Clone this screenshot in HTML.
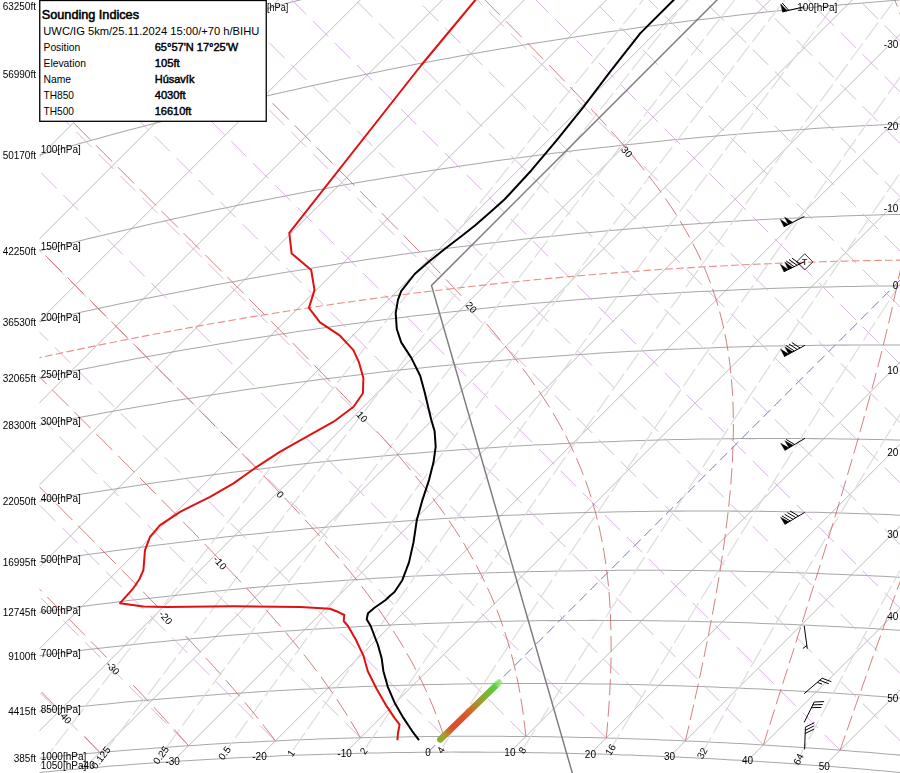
<!DOCTYPE html>
<html><head><meta charset="utf-8"><style>
html,body{margin:0;padding:0;background:#fff;}
body{width:900px;height:773px;overflow:hidden;position:relative;font-family:"Liberation Sans",sans-serif;}
svg{position:absolute;left:0;top:0;opacity:0.999;font-family:"Liberation Sans",sans-serif;}
.ib{fill:none;stroke:#a8a8a8;stroke-width:1.05;}
.it{fill:none;stroke:#ababab;stroke-width:0.8;}
.it0{fill:none;stroke:#6c6cd6;stroke-width:0.95;stroke-dasharray:10.2 5.1;}
.da{fill:none;stroke:#d6addc;stroke-width:0.9;stroke-dasharray:21.76 9.33;}
.mr{fill:none;stroke:#dcdcdc;stroke-width:1.2;stroke-dasharray:21 4.5;}
.sa{fill:none;stroke:#c75f5f;stroke-width:0.8;}
.tp{fill:none;stroke:#ec9088;stroke-width:1.15;stroke-dasharray:7.6 3.4;}
.isa{fill:none;stroke:#7c7c7c;stroke-width:1.45;}
.tc{fill:none;stroke:#000;stroke-width:2.0;stroke-linejoin:round;}
.dc{fill:none;stroke:#de1212;stroke-width:2.0;stroke-linejoin:round;}
.wb{fill:none;stroke:#000;stroke-width:1;}
.wp{fill:#000;stroke:#000;stroke-width:0.4;}
.l10{font-size:10px;fill:#000;}
.l11{font-size:11px;fill:#000;}
.l11b{font-size:11px;fill:#000;stroke:#000;stroke-width:0.45px;}
.fb2{fill:#000;stroke:#000;stroke-width:0.55px;}
</style></head><body>
<svg width="900" height="773" viewBox="0 0 900 773">
<defs><clipPath id="cp"><rect x="39.5" y="0" width="861" height="773"/></clipPath>
<linearGradient id="gb" gradientUnits="userSpaceOnUse" x1="440.3" y1="739.5" x2="499" y2="682.5">
<stop offset="0" stop-color="#8cae2a"/><stop offset="0.08" stop-color="#a89a2a"/><stop offset="0.2" stop-color="#de4c28"/><stop offset="0.42" stop-color="#dc5428"/><stop offset="0.6" stop-color="#b4882e"/><stop offset="0.78" stop-color="#7cb436"/><stop offset="0.93" stop-color="#5ad03a"/><stop offset="1" stop-color="#86e466" stop-opacity="0.7"/>
</linearGradient></defs>
<g clip-path="url(#cp)">
<path d="M149.5 -35.2 L161.5 -39.0 L173.5 -42.8 L185.4 -46.5 L197.2 -50.1 L209.0 -53.7 L220.8 -57.3 L232.5 -60.8 L244.2 -64.3 L255.8 -67.7 L267.3 -71.0 L278.8 -74.3 L290.3 -77.6 L301.7 -80.8 L313.0 -83.9 L324.3 -87.0 L335.6 -90.1 L346.8 -93.1 L358.0 -96.1 L369.2 -99.1 L380.3 -102.0 L391.3 -104.8 L402.3 -107.6 L413.3 -110.4 L424.2 -113.1 L435.1 -115.8 L445.9 -118.4 L456.7 -121.0 L467.5 -123.6 L478.2 -126.1 L488.9 -128.6 L499.6 -131.1 L510.2 -133.5 L520.8 -135.9 L531.3 -138.2 L541.8 -140.5 L552.3 -142.8 L562.7 -145.0 L573.1 -147.2 L583.5 -149.4 L593.8 -151.5 L604.1 -153.6 L614.3 -155.6 L624.6 -157.7 L634.8 -159.7 L644.9 -161.6 L655.1 -163.6 L665.2 -165.5 L675.2 -167.3 L685.3 -169.2 L695.3 -171.0 L705.2 -172.7 L715.2 -174.5 L725.1 -176.2 L735.0 -177.9 L744.8 -179.5 L754.7 -181.2 L764.5 -182.8 L774.2 -184.3 L784.0 -185.9 L793.7 -187.4 L803.4 -188.9 L813.0 -190.3 L822.7 -191.8 L832.3 -193.2 L841.8 -194.5 L851.4 -195.9 L860.9 -197.2 L870.4 -198.5 L879.9 -199.8 L889.3 -201.0 L898.8 -202.3 L908.2 -203.5" class="ib"/>
<path d="M40.1 74.2 L52.2 70.3 L64.1 66.6 L76.0 62.9 L87.9 59.2 L99.7 55.6 L111.5 52.0 L123.2 48.5 L134.8 45.1 L146.4 41.7 L158.0 38.3 L169.5 35.0 L180.9 31.8 L192.3 28.6 L203.7 25.4 L215.0 22.3 L226.3 19.2 L237.5 16.2 L248.7 13.2 L259.8 10.3 L270.9 7.4 L282.0 4.5 L293.0 1.7 L303.9 -1.0 L314.9 -3.8 L325.7 -6.4 L336.6 -9.1 L347.4 -11.7 L358.2 -14.3 L368.9 -16.8 L379.6 -19.3 L390.2 -21.7 L400.8 -24.1 L411.4 -26.5 L422.0 -28.9 L432.5 -31.2 L442.9 -33.4 L453.4 -35.7 L463.7 -37.8 L474.1 -40.0 L484.4 -42.1 L494.7 -44.2 L505.0 -46.3 L515.2 -48.3 L525.4 -50.3 L535.6 -52.3 L545.7 -54.2 L555.8 -56.1 L565.9 -58.0 L575.9 -59.8 L585.9 -61.6 L595.9 -63.4 L605.8 -65.1 L615.7 -66.8 L625.6 -68.5 L635.5 -70.2 L645.3 -71.8 L655.1 -73.4 L664.9 -75.0 L674.6 -76.5 L684.3 -78.0 L694.0 -79.5 L703.7 -81.0 L713.3 -82.4 L722.9 -83.8 L732.5 -85.2 L742.0 -86.5 L751.6 -87.9 L761.1 -89.2 L770.5 -90.4 L780.0 -91.7 L789.4 -92.9 L798.8 -94.1 L808.2 -95.3 L817.5 -96.4 L826.9 -97.6 L836.2 -98.7 L845.4 -99.7 L854.7 -100.8 L863.9 -101.8 L873.1 -102.8 L882.3 -103.8 L891.5 -104.8 L900.6 -105.7 L909.7 -106.6" class="ib"/>
<path d="M30.5 157.6 L42.0 154.3 L53.5 151.0 L65.0 147.7 L76.4 144.5 L87.8 141.3 L99.1 138.2 L110.4 135.1 L121.6 132.1 L132.8 129.1 L143.9 126.2 L155.0 123.3 L166.0 120.5 L177.1 117.6 L188.0 114.9 L198.9 112.2 L209.8 109.5 L220.7 106.8 L231.5 104.2 L242.2 101.7 L253.0 99.1 L263.7 96.6 L274.3 94.2 L284.9 91.8 L295.5 89.4 L306.0 87.1 L316.5 84.8 L327.0 82.5 L337.4 80.3 L347.8 78.1 L358.2 75.9 L368.5 73.8 L378.8 71.7 L389.1 69.6 L399.3 67.6 L409.5 65.6 L419.7 63.6 L429.8 61.7 L439.9 59.8 L450.0 57.9 L460.0 56.1 L470.0 54.3 L480.0 52.5 L489.9 50.8 L499.8 49.1 L509.7 47.4 L519.6 45.7 L529.4 44.1 L539.2 42.5 L549.0 40.9 L558.7 39.4 L568.4 37.9 L578.1 36.4 L587.8 34.9 L597.4 33.5 L607.0 32.1 L616.6 30.7 L626.1 29.4 L635.7 28.0 L645.2 26.7 L654.6 25.5 L664.1 24.2 L673.5 23.0 L682.9 21.8 L692.3 20.6 L701.6 19.5 L710.9 18.4 L720.3 17.2 L729.5 16.2 L738.8 15.1 L748.0 14.1 L757.2 13.1 L766.4 12.1 L775.6 11.1 L784.7 10.2 L793.8 9.3 L802.9 8.4 L812.0 7.5 L821.1 6.6 L830.1 5.8 L839.1 5.0 L848.1 4.2 L857.1 3.4 L866.0 2.7 L874.9 2.0 L883.8 1.3 L892.7 0.6 L901.6 -0.1 L910.4 -0.7" class="ib"/>
<path d="M34.3 252.2 L45.3 249.4 L56.2 246.7 L67.2 243.9 L78.1 241.2 L88.9 238.6 L99.7 236.0 L110.5 233.4 L121.2 230.9 L131.9 228.4 L142.5 226.0 L153.2 223.5 L163.7 221.2 L174.3 218.8 L184.8 216.5 L195.2 214.3 L205.7 212.0 L216.1 209.8 L226.4 207.7 L236.8 205.5 L247.1 203.4 L257.3 201.4 L267.5 199.4 L277.7 197.4 L287.9 195.4 L298.0 193.5 L308.1 191.6 L318.2 189.7 L328.2 187.9 L338.2 186.1 L348.2 184.3 L358.1 182.6 L368.1 180.8 L377.9 179.2 L387.8 177.5 L397.6 175.9 L407.4 174.3 L417.2 172.7 L426.9 171.2 L436.6 169.7 L446.3 168.2 L456.0 166.7 L465.6 165.3 L475.2 163.9 L484.8 162.5 L494.4 161.1 L503.9 159.8 L513.4 158.5 L522.9 157.2 L532.3 156.0 L541.7 154.8 L551.1 153.6 L560.5 152.4 L569.9 151.2 L579.2 150.1 L588.5 149.0 L597.8 147.9 L607.0 146.9 L616.2 145.9 L625.5 144.8 L634.6 143.9 L643.8 142.9 L652.9 142.0 L662.1 141.0 L671.2 140.1 L680.2 139.3 L689.3 138.4 L698.3 137.6 L707.3 136.8 L716.3 136.0 L725.3 135.2 L734.2 134.5 L743.2 133.7 L752.1 133.0 L761.0 132.3 L769.8 131.7 L778.7 131.0 L787.5 130.4 L796.3 129.8 L805.1 129.2 L813.9 128.6 L822.6 128.1 L831.3 127.6 L840.1 127.0 L848.7 126.6 L857.4 126.1 L866.1 125.6 L874.7 125.2 L883.3 124.8 L891.9 124.4 L900.5 124.0 L909.1 123.6" class="ib"/>
<path d="M27.7 324.4 L38.4 321.9 L49.0 319.5 L59.7 317.0 L70.2 314.7 L80.8 312.3 L91.3 310.0 L101.7 307.8 L112.2 305.5 L122.6 303.3 L132.9 301.2 L143.3 299.0 L153.6 296.9 L163.8 294.9 L174.0 292.9 L184.2 290.9 L194.4 288.9 L204.5 287.0 L214.6 285.1 L224.7 283.2 L234.7 281.4 L244.7 279.6 L254.7 277.8 L264.7 276.0 L274.6 274.3 L284.5 272.6 L294.3 271.0 L304.1 269.4 L313.9 267.8 L323.7 266.2 L333.4 264.7 L343.2 263.1 L352.8 261.7 L362.5 260.2 L372.1 258.8 L381.7 257.4 L391.3 256.0 L400.9 254.6 L410.4 253.3 L419.9 252.0 L429.4 250.7 L438.8 249.5 L448.2 248.3 L457.6 247.1 L467.0 245.9 L476.4 244.7 L485.7 243.6 L495.0 242.5 L504.3 241.4 L513.5 240.4 L522.8 239.3 L532.0 238.3 L541.2 237.3 L550.3 236.4 L559.5 235.4 L568.6 234.5 L577.7 233.6 L586.7 232.8 L595.8 231.9 L604.8 231.1 L613.8 230.3 L622.8 229.5 L631.8 228.7 L640.7 228.0 L649.7 227.2 L658.6 226.5 L667.5 225.8 L676.3 225.2 L685.2 224.5 L694.0 223.9 L702.8 223.3 L711.6 222.7 L720.4 222.1 L729.1 221.6 L737.9 221.0 L746.6 220.5 L755.3 220.0 L763.9 219.6 L772.6 219.1 L781.2 218.7 L789.8 218.3 L798.4 217.9 L807.0 217.5 L815.6 217.1 L824.1 216.8 L832.7 216.4 L841.2 216.1 L849.7 215.8 L858.2 215.5 L866.6 215.3 L875.1 215.0 L883.5 214.8 L891.9 214.6 L900.3 214.4 L908.7 214.2" class="ib"/>
<path d="M29.2 380.3 L39.7 378.0 L50.1 375.8 L60.4 373.7 L70.7 371.6 L81.0 369.5 L91.3 367.4 L101.5 365.4 L111.7 363.4 L121.9 361.4 L132.0 359.5 L142.1 357.6 L152.2 355.7 L162.2 353.9 L172.2 352.1 L182.2 350.3 L192.1 348.6 L202.0 346.9 L211.9 345.2 L221.8 343.5 L231.6 341.9 L241.4 340.3 L251.2 338.7 L260.9 337.2 L270.6 335.7 L280.3 334.2 L290.0 332.7 L299.6 331.3 L309.2 329.9 L318.8 328.5 L328.3 327.2 L337.9 325.8 L347.4 324.5 L356.8 323.3 L366.3 322.0 L375.7 320.8 L385.1 319.6 L394.5 318.4 L403.8 317.3 L413.2 316.1 L422.5 315.0 L431.8 313.9 L441.0 312.9 L450.2 311.9 L459.4 310.9 L468.6 309.9 L477.8 308.9 L486.9 308.0 L496.1 307.0 L505.2 306.1 L514.2 305.3 L523.3 304.4 L532.3 303.6 L541.3 302.8 L550.3 302.0 L559.3 301.2 L568.2 300.5 L577.2 299.7 L586.1 299.0 L594.9 298.4 L603.8 297.7 L612.7 297.0 L621.5 296.4 L630.3 295.8 L639.1 295.2 L647.9 294.6 L656.6 294.1 L665.3 293.6 L674.0 293.1 L682.7 292.6 L691.4 292.1 L700.1 291.6 L708.7 291.2 L717.3 290.8 L725.9 290.4 L734.5 290.0 L743.1 289.6 L751.6 289.3 L760.2 288.9 L768.7 288.6 L777.2 288.3 L785.7 288.0 L794.1 287.8 L802.6 287.5 L811.0 287.3 L819.4 287.1 L827.8 286.9 L836.2 286.7 L844.6 286.5 L852.9 286.4 L861.2 286.3 L869.6 286.1 L877.9 286.0 L886.2 285.9 L894.4 285.9 L902.7 285.8 L910.9 285.8" class="ib"/>
<path d="M32.0 426.7 L42.3 424.6 L52.5 422.6 L62.6 420.7 L72.8 418.7 L82.9 416.8 L92.9 415.0 L103.0 413.1 L113.0 411.3 L122.9 409.6 L132.9 407.8 L142.8 406.1 L152.7 404.4 L162.5 402.8 L172.4 401.1 L182.2 399.5 L191.9 398.0 L201.7 396.4 L211.4 394.9 L221.1 393.4 L230.7 392.0 L240.4 390.5 L250.0 389.1 L259.5 387.8 L269.1 386.4 L278.6 385.1 L288.1 383.8 L297.6 382.5 L307.0 381.3 L316.5 380.0 L325.9 378.8 L335.2 377.7 L344.6 376.5 L353.9 375.4 L363.2 374.3 L372.5 373.2 L381.8 372.1 L391.0 371.1 L400.2 370.1 L409.4 369.1 L418.5 368.2 L427.7 367.2 L436.8 366.3 L445.9 365.4 L455.0 364.5 L464.0 363.7 L473.1 362.8 L482.1 362.0 L491.1 361.2 L500.0 360.5 L509.0 359.7 L517.9 359.0 L526.8 358.3 L535.7 357.6 L544.6 356.9 L553.4 356.3 L562.2 355.7 L571.0 355.1 L579.8 354.5 L588.6 353.9 L597.4 353.3 L606.1 352.8 L614.8 352.3 L623.5 351.8 L632.2 351.3 L640.8 350.9 L649.5 350.4 L658.1 350.0 L666.7 349.6 L675.3 349.2 L683.8 348.9 L692.4 348.5 L700.9 348.2 L709.4 347.9 L717.9 347.6 L726.4 347.3 L734.9 347.0 L743.3 346.8 L751.7 346.6 L760.2 346.3 L768.6 346.1 L776.9 346.0 L785.3 345.8 L793.7 345.6 L802.0 345.5 L810.3 345.4 L818.6 345.3 L826.9 345.2 L835.2 345.1 L843.4 345.1 L851.7 345.0 L859.9 345.0 L868.1 345.0 L876.3 345.0 L884.5 345.0 L892.7 345.0 L900.8 345.1 L908.9 345.2" class="ib"/>
<path d="M29.4 503.1 L39.4 501.3 L49.3 499.6 L59.2 497.9 L69.0 496.3 L78.9 494.6 L88.7 493.0 L98.4 491.5 L108.2 489.9 L117.9 488.4 L127.6 486.9 L137.2 485.5 L146.9 484.0 L156.5 482.6 L166.1 481.2 L175.6 479.9 L185.1 478.6 L194.6 477.3 L204.1 476.0 L213.6 474.7 L223.0 473.5 L232.4 472.3 L241.7 471.2 L251.1 470.0 L260.4 468.9 L269.7 467.8 L279.0 466.7 L288.3 465.6 L297.5 464.6 L306.7 463.6 L315.9 462.6 L325.1 461.6 L334.2 460.7 L343.3 459.8 L352.4 458.9 L361.5 458.0 L370.5 457.2 L379.6 456.3 L388.6 455.5 L397.6 454.7 L406.5 454.0 L415.5 453.2 L424.4 452.5 L433.3 451.8 L442.2 451.1 L451.1 450.4 L459.9 449.8 L468.7 449.2 L477.6 448.5 L486.3 448.0 L495.1 447.4 L503.9 446.8 L512.6 446.3 L521.3 445.8 L530.0 445.3 L538.7 444.8 L547.3 444.4 L556.0 443.9 L564.6 443.5 L573.2 443.1 L581.8 442.7 L590.3 442.4 L598.9 442.0 L607.4 441.7 L615.9 441.4 L624.4 441.1 L632.9 440.8 L641.4 440.5 L649.8 440.3 L658.3 440.0 L666.7 439.8 L675.1 439.6 L683.4 439.5 L691.8 439.3 L700.2 439.1 L708.5 439.0 L716.8 438.9 L725.1 438.8 L733.4 438.7 L741.7 438.6 L749.9 438.6 L758.2 438.5 L766.4 438.5 L774.6 438.5 L782.8 438.5 L791.0 438.5 L799.2 438.5 L807.3 438.6 L815.5 438.6 L823.6 438.7 L831.7 438.8 L839.8 438.9 L847.9 439.0 L855.9 439.2 L864.0 439.3 L872.0 439.5 L880.1 439.6 L888.1 439.8 L896.1 440.0 L904.1 440.2" class="ib"/>
<path d="M35.7 562.4 L45.4 560.9 L55.1 559.4 L64.7 558.0 L74.3 556.6 L84.0 555.1 L93.5 553.8 L103.1 552.4 L112.6 551.1 L122.1 549.8 L131.6 548.5 L141.0 547.3 L150.5 546.0 L159.9 544.8 L169.2 543.7 L178.6 542.5 L187.9 541.4 L197.2 540.3 L206.5 539.2 L215.7 538.2 L225.0 537.1 L234.2 536.1 L243.4 535.1 L252.5 534.2 L261.7 533.2 L270.8 532.3 L279.9 531.4 L289.0 530.5 L298.0 529.7 L307.1 528.8 L316.1 528.0 L325.1 527.2 L334.0 526.5 L343.0 525.7 L351.9 525.0 L360.8 524.3 L369.7 523.6 L378.6 522.9 L387.4 522.3 L396.2 521.7 L405.0 521.1 L413.8 520.5 L422.6 519.9 L431.3 519.4 L440.1 518.8 L448.8 518.3 L457.5 517.8 L466.2 517.3 L474.8 516.9 L483.4 516.5 L492.1 516.0 L500.7 515.6 L509.3 515.2 L517.8 514.9 L526.4 514.5 L534.9 514.2 L543.4 513.9 L551.9 513.6 L560.4 513.3 L568.9 513.0 L577.3 512.8 L585.7 512.6 L594.2 512.3 L602.5 512.2 L610.9 512.0 L619.3 511.8 L627.6 511.7 L636.0 511.5 L644.3 511.4 L652.6 511.3 L660.9 511.2 L669.2 511.1 L677.4 511.1 L685.7 511.0 L693.9 511.0 L702.1 511.0 L710.3 511.0 L718.5 511.0 L726.6 511.1 L734.8 511.1 L742.9 511.2 L751.1 511.2 L759.2 511.3 L767.3 511.4 L775.3 511.6 L783.4 511.7 L791.5 511.8 L799.5 512.0 L807.5 512.2 L815.6 512.3 L823.6 512.5 L831.5 512.8 L839.5 513.0 L847.5 513.2 L855.4 513.5 L863.4 513.7 L871.3 514.0 L879.2 514.3 L887.1 514.6 L895.0 514.9 L902.8 515.3 L910.7 515.6" class="ib"/>
<path d="M34.3 613.0 L43.8 611.7 L53.4 610.3 L62.9 609.0 L72.3 607.8 L81.8 606.5 L91.2 605.3 L100.6 604.1 L110.0 602.9 L119.3 601.8 L128.7 600.6 L138.0 599.5 L147.2 598.5 L156.5 597.4 L165.7 596.4 L174.9 595.4 L184.1 594.4 L193.3 593.4 L202.4 592.5 L211.5 591.6 L220.6 590.7 L229.7 589.8 L238.8 588.9 L247.8 588.1 L256.8 587.3 L265.8 586.5 L274.8 585.7 L283.7 585.0 L292.6 584.3 L301.5 583.6 L310.4 582.9 L319.3 582.2 L328.1 581.6 L337.0 580.9 L345.8 580.3 L354.6 579.7 L363.3 579.2 L372.1 578.6 L380.8 578.1 L389.5 577.6 L398.2 577.1 L406.9 576.6 L415.6 576.1 L424.2 575.7 L432.8 575.3 L441.4 574.9 L450.0 574.5 L458.6 574.1 L467.1 573.8 L475.6 573.5 L484.2 573.1 L492.7 572.8 L501.1 572.6 L509.6 572.3 L518.1 572.0 L526.5 571.8 L534.9 571.6 L543.3 571.4 L551.7 571.2 L560.0 571.1 L568.4 570.9 L576.7 570.8 L585.0 570.7 L593.4 570.5 L601.6 570.5 L609.9 570.4 L618.2 570.3 L626.4 570.3 L634.6 570.3 L642.8 570.3 L651.0 570.3 L659.2 570.3 L667.4 570.3 L675.5 570.4 L683.7 570.4 L691.8 570.5 L699.9 570.6 L708.0 570.7 L716.1 570.8 L724.2 570.9 L732.2 571.1 L740.3 571.2 L748.3 571.4 L756.3 571.6 L764.3 571.8 L772.3 572.0 L780.3 572.2 L788.2 572.5 L796.2 572.7 L804.1 573.0 L812.0 573.3 L819.9 573.6 L827.8 573.9 L835.7 574.2 L843.6 574.5 L851.4 574.9 L859.3 575.2 L867.1 575.6 L874.9 576.0 L882.8 576.3 L890.6 576.7 L898.3 577.2 L906.1 577.6" class="ib"/>
<path d="M31.7 656.6 L41.1 655.4 L50.5 654.2 L59.9 653.0 L69.2 651.9 L78.6 650.7 L87.9 649.6 L97.1 648.6 L106.4 647.5 L115.6 646.5 L124.8 645.5 L134.0 644.5 L143.2 643.5 L152.3 642.6 L161.4 641.7 L170.5 640.8 L179.6 639.9 L188.7 639.0 L197.7 638.2 L206.7 637.4 L215.7 636.6 L224.7 635.8 L233.6 635.1 L242.5 634.4 L251.5 633.6 L260.3 633.0 L269.2 632.3 L278.1 631.6 L286.9 631.0 L295.7 630.4 L304.5 629.8 L313.2 629.3 L322.0 628.7 L330.7 628.2 L339.4 627.7 L348.1 627.2 L356.8 626.7 L365.5 626.2 L374.1 625.8 L382.7 625.4 L391.3 625.0 L399.9 624.6 L408.5 624.2 L417.0 623.9 L425.6 623.5 L434.1 623.2 L442.6 622.9 L451.0 622.7 L459.5 622.4 L468.0 622.1 L476.4 621.9 L484.8 621.7 L493.2 621.5 L501.6 621.3 L509.9 621.2 L518.3 621.0 L526.6 620.9 L535.0 620.7 L543.3 620.6 L551.5 620.6 L559.8 620.5 L568.1 620.4 L576.3 620.4 L584.5 620.4 L592.8 620.3 L600.9 620.4 L609.1 620.4 L617.3 620.4 L625.5 620.4 L633.6 620.5 L641.7 620.6 L649.8 620.7 L657.9 620.8 L666.0 620.9 L674.1 621.0 L682.1 621.2 L690.2 621.3 L698.2 621.5 L706.2 621.7 L714.2 621.9 L722.2 622.1 L730.2 622.3 L738.1 622.6 L746.1 622.8 L754.0 623.1 L761.9 623.4 L769.8 623.7 L777.7 624.0 L785.6 624.3 L793.5 624.6 L801.3 625.0 L809.2 625.3 L817.0 625.7 L824.9 626.0 L832.7 626.4 L840.5 626.8 L848.2 627.3 L856.0 627.7 L863.8 628.1 L871.5 628.6 L879.3 629.0 L887.0 629.5 L894.7 630.0 L902.4 630.5 L910.1 631.0" class="ib"/>
<path d="M34.0 711.7 L43.3 710.6 L52.5 709.6 L61.7 708.6 L70.9 707.6 L80.1 706.6 L89.2 705.7 L98.3 704.8 L107.4 703.9 L116.5 703.0 L125.6 702.1 L134.6 701.3 L143.6 700.5 L152.6 699.7 L161.6 698.9 L170.5 698.2 L179.4 697.5 L188.4 696.7 L197.2 696.1 L206.1 695.4 L215.0 694.7 L223.8 694.1 L232.6 693.5 L241.4 692.9 L250.1 692.4 L258.9 691.8 L267.6 691.3 L276.3 690.8 L285.0 690.3 L293.7 689.8 L302.4 689.3 L311.0 688.9 L319.6 688.5 L328.2 688.1 L336.8 687.7 L345.4 687.3 L353.9 687.0 L362.5 686.6 L371.0 686.3 L379.5 686.0 L387.9 685.8 L396.4 685.5 L404.9 685.2 L413.3 685.0 L421.7 684.8 L430.1 684.6 L438.5 684.4 L446.9 684.2 L455.2 684.1 L463.5 684.0 L471.9 683.8 L480.2 683.7 L488.4 683.7 L496.7 683.6 L505.0 683.5 L513.2 683.5 L521.4 683.5 L529.7 683.4 L537.8 683.5 L546.0 683.5 L554.2 683.5 L562.4 683.5 L570.5 683.6 L578.6 683.7 L586.7 683.8 L594.8 683.9 L602.9 684.0 L611.0 684.1 L619.0 684.3 L627.1 684.4 L635.1 684.6 L643.1 684.8 L651.1 685.0 L659.1 685.2 L667.1 685.4 L675.0 685.7 L683.0 685.9 L690.9 686.2 L698.8 686.5 L706.7 686.8 L714.6 687.1 L722.5 687.4 L730.4 687.7 L738.3 688.0 L746.1 688.4 L753.9 688.8 L761.8 689.1 L769.6 689.5 L777.4 689.9 L785.1 690.4 L792.9 690.8 L800.7 691.2 L808.4 691.7 L816.2 692.1 L823.9 692.6 L831.6 693.1 L839.3 693.6 L847.0 694.1 L854.7 694.6 L862.4 695.1 L870.0 695.7 L877.7 696.2 L885.3 696.8 L892.9 697.4 L900.5 698.0 L908.1 698.6" class="ib"/>
<path d="M36.4 758.5 L45.5 757.6 L54.6 756.7 L63.7 755.8 L72.8 754.9 L81.8 754.1 L90.8 753.3 L99.8 752.5 L108.8 751.7 L117.7 751.0 L126.6 750.3 L135.5 749.6 L144.4 748.9 L153.3 748.2 L162.1 747.6 L171.0 746.9 L179.8 746.3 L188.6 745.7 L197.3 745.2 L206.1 744.6 L214.8 744.1 L223.5 743.6 L232.2 743.1 L240.9 742.6 L249.5 742.2 L258.2 741.7 L266.8 741.3 L275.4 740.9 L284.0 740.5 L292.6 740.1 L301.1 739.8 L309.6 739.5 L318.2 739.1 L326.7 738.8 L335.1 738.6 L343.6 738.3 L352.0 738.1 L360.5 737.8 L368.9 737.6 L377.3 737.4 L385.7 737.2 L394.0 737.1 L402.4 736.9 L410.7 736.8 L419.0 736.7 L427.3 736.6 L435.6 736.5 L443.9 736.4 L452.2 736.3 L460.4 736.3 L468.6 736.3 L476.8 736.3 L485.0 736.3 L493.2 736.3 L501.4 736.3 L509.5 736.4 L517.7 736.4 L525.8 736.5 L533.9 736.6 L542.0 736.7 L550.1 736.8 L558.2 736.9 L566.2 737.1 L574.3 737.2 L582.3 737.4 L590.3 737.6 L598.3 737.8 L606.3 738.0 L614.3 738.2 L622.2 738.5 L630.2 738.7 L638.1 739.0 L646.0 739.3 L653.9 739.6 L661.8 739.9 L669.7 740.2 L677.6 740.5 L685.4 740.9 L693.3 741.2 L701.1 741.6 L708.9 742.0 L716.7 742.4 L724.5 742.8 L732.3 743.2 L740.1 743.6 L747.9 744.0 L755.6 744.5 L763.4 744.9 L771.1 745.4 L778.8 745.9 L786.5 746.4 L794.2 746.9 L801.9 747.4 L809.5 748.0 L817.2 748.5 L824.8 749.1 L832.5 749.6 L840.1 750.2 L847.7 750.8 L855.3 751.4 L862.9 752.0 L870.5 752.6 L878.1 753.2 L885.6 753.9 L893.2 754.5 L900.7 755.2 L908.3 755.8" class="ib"/>
<path d="M29.7 773.4 L38.8 772.5 L47.8 771.7 L56.9 770.8 L65.9 770.0 L74.9 769.2 L83.9 768.4 L92.9 767.6 L101.8 766.9 L110.8 766.1 L119.7 765.4 L128.6 764.7 L137.4 764.1 L146.3 763.4 L155.1 762.8 L163.9 762.2 L172.7 761.6 L181.5 761.0 L190.2 760.5 L199.0 759.9 L207.7 759.4 L216.4 758.9 L225.0 758.5 L233.7 758.0 L242.3 757.6 L250.9 757.2 L259.5 756.8 L268.1 756.4 L276.7 756.0 L285.3 755.6 L293.8 755.3 L302.3 755.0 L310.8 754.7 L319.3 754.4 L327.7 754.2 L336.2 753.9 L344.6 753.7 L353.0 753.5 L361.4 753.3 L369.8 753.1 L378.2 752.9 L386.5 752.8 L394.9 752.6 L403.2 752.5 L411.5 752.4 L419.8 752.3 L428.0 752.3 L436.3 752.2 L444.5 752.2 L452.8 752.1 L461.0 752.1 L469.2 752.1 L477.4 752.1 L485.5 752.2 L493.7 752.2 L501.8 752.3 L509.9 752.4 L518.1 752.4 L526.1 752.6 L534.2 752.7 L542.3 752.8 L550.4 752.9 L558.4 753.1 L566.4 753.3 L574.4 753.5 L582.4 753.7 L590.4 753.9 L598.4 754.1 L606.4 754.3 L614.3 754.6 L622.2 754.9 L630.2 755.1 L638.1 755.4 L646.0 755.7 L653.8 756.1 L661.7 756.4 L669.6 756.7 L677.4 757.1 L685.3 757.4 L693.1 757.8 L700.9 758.2 L708.7 758.6 L716.5 759.0 L724.2 759.5 L732.0 759.9 L739.8 760.3 L747.5 760.8 L755.2 761.3 L762.9 761.8 L770.6 762.3 L778.3 762.8 L786.0 763.3 L793.7 763.8 L801.3 764.4 L809.0 764.9 L816.6 765.5 L824.3 766.0 L831.9 766.6 L839.5 767.2 L847.1 767.8 L854.6 768.5 L862.2 769.1 L869.8 769.7 L877.3 770.4 L884.9 771.0 L892.4 771.7 L899.9 772.4 L907.4 773.1" class="ib"/>
<path d="M-722.1 918.4 L208.1 -11.8" class="it"/>
<path d="M-609.2 887.5 L321.0 -42.7" class="it"/>
<path d="M-500.5 860.8 L429.7 -69.4" class="it"/>
<path d="M-395.6 837.9 L534.5 -92.2" class="it"/>
<path d="M-294.2 818.5 L636.0 -111.7" class="it"/>
<path d="M-195.7 802.0 L734.4 -128.1" class="it"/>
<path d="M-100.1 788.4 L830.1 -141.8" class="it"/>
<path d="M-6.9 777.2 L923.2 -152.9" class="it"/>
<path d="M83.9 768.4 L1014.1 -161.8" class="it"/>
<path d="M172.7 761.6 L1102.9 -168.6" class="it"/>
<path d="M259.5 756.8 L1189.7 -173.4" class="it"/>
<path d="M344.6 753.7 L1274.8 -176.5" class="it"/>
<path d="M428.0 752.3 L1358.2 -177.9" class="it0"/>
<path d="M509.9 752.4 L1440.1 -177.8" class="it"/>
<path d="M590.4 753.9 L1520.6 -176.3" class="it"/>
<path d="M669.6 756.7 L1599.7 -173.4" class="it"/>
<path d="M747.5 760.8 L1677.7 -169.4" class="it"/>
<path d="M824.3 766.0 L1754.4 -164.1" class="it"/>
<path d="M99.8 752.5 L-310.2 342.5" class="da"/>
<path d="M188.6 745.7 L-262.4 294.7" class="da"/>
<path d="M275.4 740.9 L-216.6 248.9" class="da"/>
<path d="M360.5 737.8 L-172.5 204.8" class="da"/>
<path d="M443.9 736.4 L-130.1 162.4" class="da"/>
<path d="M525.8 736.5 L-89.2 121.5" class="da"/>
<path d="M606.3 738.0 L-49.7 82.0" class="da"/>
<path d="M685.4 740.9 L-11.6 43.9" class="da"/>
<path d="M763.4 744.9 L25.4 6.9" class="da"/>
<path d="M840.1 750.2 L61.1 -28.8" class="da"/>
<path d="M900.0 740.7 L95.8 -63.5" class="da"/>
<path d="M900.0 673.5 L129.4 -97.1" class="da"/>
<path d="M900.0 608.1 L162.1 -129.8" class="da"/>
<path d="M900.0 544.6 L193.9 -161.6" class="da"/>
<path d="M900.0 482.8 L224.8 -192.5" class="da"/>
<path d="M900.0 422.6 L254.8 -222.5" class="da"/>
<path d="M900.0 364.0 L284.1 -251.8" class="da"/>
<path d="M900.0 306.9 L312.7 -280.4" class="da"/>
<path d="M900.0 251.1 L340.6 -308.3" class="da"/>
<path d="M900.0 196.7 L367.8 -335.5" class="da"/>
<path d="M900.0 143.6 L394.4 -362.1" class="da"/>
<path d="M900.0 91.7 L420.3 -388.0" class="da"/>
<path d="M900.0 40.9 L445.7 -413.4" class="da"/>
<path d="M900.0 -8.8 L470.5 -438.2" class="da"/>
<path d="M900.0 -57.4 L494.8 -462.5" class="da"/>
<path d="M900.0 -104.9 L518.6 -486.3" class="da"/>
<path d="M900.0 -151.6 L541.9 -509.6" class="da"/>
<path d="M900.0 -197.2 L564.8 -532.5" class="da"/>
<path d="M900.0 -242.0 L587.1 -554.8" class="da"/>
<path d="M900.0 -285.9 L609.1 -576.8" class="da"/>
<path d="M900.0 -329.0 L630.6 -598.3" class="da"/>
<path d="M900.0 -371.3 L651.8 -619.5" class="da"/>
<path d="M900.0 -412.8 L672.5 -640.2" class="da"/>
<path d="M900.0 -453.5 L692.9 -660.6" class="da"/>
<path d="M53.5 747.9 L39.0 766.9 L41.4 763.8 L43.7 760.7 L46.1 757.5 L48.6 754.3 L51.0 751.1 L53.5 747.9 L56.0 744.6 L58.6 741.3 L61.2 737.9 L63.8 734.5 L66.4 731.1 L69.0 727.6 L71.7 724.1 L74.4 720.6 L77.2 717.0 L80.0 713.4 L82.8 709.7 L85.6 706.0 L88.5 702.3 L91.4 698.5 L94.4 694.7 L97.3 690.8 L100.4 686.8 L103.4 682.9 L106.5 678.8 L109.7 674.8 L112.9 670.6 L116.1 666.4 L119.4 662.2 L122.7 657.9 L126.1 653.5 L129.5 649.1 L133.0 644.6 L136.5 640.0 L140.0 635.4 L143.7 630.7 L147.3 626.0 L151.1 621.1 L154.9 616.2 L158.7 611.3 L162.7 606.2 L166.6 601.1 L170.7 595.8 L174.8 590.5 L179.0 585.1 L183.3 579.6 L187.6 574.0 L192.1 568.3 L196.6 562.5 L201.2 556.6 L205.8 550.6 L210.6 544.4 L215.5 538.2 L220.5 531.8 L225.6 525.3 L230.7 518.6 L236.0 511.8 L241.5 504.9 L247.0 497.8 L252.7 490.5 L258.5 483.1 L264.5 475.5 L270.6 467.7 L276.8 459.7 L283.3 451.5 L289.9 443.0 L296.7 434.4 L303.7 425.5 L310.8 416.3 L318.3 406.9 L325.9 397.2 L333.8 387.2 L342.0 376.8 L350.4 366.1 L359.1 355.1 L368.2 343.6 L377.6 331.7 L387.4 319.3 L397.6 306.4 L408.3 293.0 L419.4 279.0 L431.0 264.3 L443.3 248.9 L456.1 232.7 L469.7 215.7 L484.1 197.7 L499.4 178.6 L515.6 158.2 L533.0 136.5 L551.8 113.1 L572.0 87.9 L594.1 60.5 L618.3 30.5 L645.1 -2.7 L675.1 -39.8 L709.2 -81.8 L748.6 -130.3 L795.4 -187.6 L852.8 -257.8" class="mr"/>
<path d="M108.8 746.7 L97.8 761.5 L100.1 758.4 L102.5 755.2 L104.8 752.1 L107.2 748.9 L109.6 745.7 L112.1 742.4 L114.6 739.1 L117.1 735.8 L119.6 732.4 L122.1 729.0 L124.7 725.6 L127.3 722.1 L130.0 718.6 L132.6 715.1 L135.3 711.5 L138.1 707.9 L140.8 704.2 L143.6 700.5 L146.5 696.7 L149.3 692.9 L152.2 689.1 L155.2 685.2 L158.1 681.2 L161.2 677.3 L164.2 673.2 L167.3 669.1 L170.4 665.0 L173.6 660.8 L176.8 656.5 L180.1 652.2 L183.4 647.8 L186.8 643.4 L190.2 638.9 L193.6 634.3 L197.2 629.7 L200.7 625.0 L204.3 620.2 L208.0 615.4 L211.8 610.5 L215.5 605.5 L219.4 600.4 L223.3 595.3 L227.3 590.0 L231.4 584.7 L235.5 579.3 L239.7 573.8 L244.0 568.1 L248.3 562.4 L252.8 556.6 L257.3 550.7 L261.9 544.7 L266.6 538.5 L271.4 532.2 L276.3 525.8 L281.3 519.3 L286.4 512.6 L291.6 505.8 L297.0 498.9 L302.4 491.8 L308.0 484.5 L313.8 477.0 L319.6 469.4 L325.6 461.6 L331.8 453.6 L338.1 445.4 L344.6 436.9 L351.3 428.2 L358.2 419.3 L365.3 410.2 L372.6 400.7 L380.1 391.0 L387.9 380.9 L396.0 370.6 L404.3 359.8 L412.9 348.7 L421.8 337.3 L431.1 325.3 L440.8 312.9 L450.8 300.0 L461.3 286.6 L472.3 272.5 L483.8 257.8 L495.8 242.4 L508.5 226.2 L521.9 209.1 L536.1 191.1 L551.2 171.9 L567.2 151.6 L584.4 129.8 L602.9 106.4 L622.9 81.2 L644.6 53.7 L668.5 23.6 L695.0 -9.6 L724.6 -46.7 L758.3 -88.8 L797.3 -137.4 L843.5 -194.8 L900.3 -265.0" class="mr"/>
<path d="M167.2 746.3 L159.6 756.7 L161.9 753.6 L164.2 750.4 L166.5 747.2 L168.9 744.0 L171.3 740.8 L173.7 737.5 L176.1 734.2 L178.5 730.9 L181.0 727.5 L183.5 724.1 L186.0 720.7 L188.6 717.2 L191.2 713.7 L193.8 710.1 L196.5 706.5 L199.1 702.9 L201.8 699.2 L204.6 695.5 L207.4 691.7 L210.2 687.9 L213.0 684.1 L215.9 680.2 L218.8 676.2 L221.8 672.2 L224.8 668.2 L227.8 664.1 L230.9 659.9 L234.0 655.7 L237.2 651.4 L240.4 647.1 L243.7 642.7 L247.0 638.2 L250.3 633.7 L253.7 629.2 L257.1 624.5 L260.6 619.8 L264.2 615.0 L267.8 610.2 L271.5 605.2 L275.2 600.2 L279.0 595.2 L282.8 590.0 L286.8 584.7 L290.7 579.4 L294.8 574.0 L298.9 568.4 L303.1 562.8 L307.4 557.1 L311.8 551.3 L316.2 545.3 L320.7 539.3 L325.4 533.1 L330.1 526.8 L334.9 520.4 L339.8 513.9 L344.8 507.2 L350.0 500.3 L355.2 493.4 L360.6 486.2 L366.1 478.9 L371.7 471.5 L377.5 463.8 L383.4 456.0 L389.5 448.0 L395.7 439.7 L402.1 431.3 L408.7 422.6 L415.4 413.6 L422.4 404.4 L429.6 395.0 L437.0 385.2 L444.7 375.1 L452.6 364.8 L460.8 354.0 L469.2 342.9 L478.0 331.4 L487.2 319.4 L496.7 307.0 L506.6 294.1 L516.9 280.6 L527.7 266.5 L539.0 251.8 L550.9 236.3 L563.4 220.1 L576.6 203.0 L590.6 184.9 L605.4 165.7 L621.2 145.3 L638.1 123.5 L656.4 100.1 L676.1 74.8 L697.5 47.3 L721.1 17.2 L747.2 -16.1 L776.4 -53.3 L809.6 -95.5 L848.1 -144.1 L893.8 -201.6 L949.9 -272.0" class="mr"/>
<path d="M229.0 746.6 L224.8 752.6 L227.0 749.5 L229.2 746.3 L231.5 743.1 L233.8 739.9 L236.1 736.7 L238.5 733.4 L240.9 730.1 L243.3 726.7 L245.7 723.4 L248.1 719.9 L250.6 716.5 L253.1 713.0 L255.7 709.5 L258.2 705.9 L260.8 702.3 L263.4 698.6 L266.1 694.9 L268.8 691.2 L271.5 687.4 L274.3 683.6 L277.0 679.7 L279.9 675.8 L282.7 671.9 L285.6 667.8 L288.6 663.8 L291.5 659.7 L294.6 655.5 L297.6 651.3 L300.7 647.0 L303.9 642.6 L307.0 638.2 L310.3 633.8 L313.6 629.2 L316.9 624.6 L320.3 620.0 L323.7 615.3 L327.2 610.5 L330.7 605.6 L334.3 600.7 L338.0 595.6 L341.7 590.5 L345.4 585.3 L349.3 580.1 L353.2 574.7 L357.2 569.3 L361.2 563.7 L365.3 558.1 L369.5 552.3 L373.8 546.5 L378.2 540.5 L382.6 534.5 L387.1 528.3 L391.8 522.0 L396.5 515.6 L401.3 509.0 L406.2 502.3 L411.3 495.4 L416.4 488.4 L421.7 481.3 L427.1 474.0 L432.6 466.5 L438.3 458.8 L444.1 451.0 L450.0 442.9 L456.2 434.6 L462.4 426.2 L468.9 417.4 L475.5 408.5 L482.4 399.3 L489.4 389.8 L496.7 380.0 L504.2 369.9 L512.0 359.5 L520.0 348.7 L528.4 337.6 L537.0 326.0 L546.0 314.0 L555.3 301.6 L565.1 288.6 L575.2 275.1 L585.8 261.0 L597.0 246.2 L608.6 230.7 L620.9 214.5 L633.9 197.3 L647.7 179.2 L662.3 160.0 L677.8 139.5 L694.5 117.6 L712.4 94.1 L731.8 68.8 L752.9 41.2 L776.1 11.1 L801.8 -22.3 L830.6 -59.5 L863.4 -101.8 L901.3 -150.5 L946.3 -208.1 L1001.7 -278.6" class="mr"/>
<path d="M292.9 750.1 L293.5 749.3 L295.7 746.2 L297.9 743.0 L300.1 739.8 L302.3 736.6 L304.6 733.4 L306.9 730.1 L309.2 726.7 L311.5 723.4 L313.9 720.0 L316.3 716.6 L318.7 713.1 L321.2 709.6 L323.7 706.0 L326.2 702.5 L328.7 698.8 L331.3 695.2 L333.8 691.5 L336.5 687.7 L339.1 683.9 L341.8 680.1 L344.5 676.2 L347.3 672.3 L350.1 668.3 L352.9 664.2 L355.8 660.2 L358.7 656.0 L361.7 651.8 L364.6 647.6 L367.7 643.3 L370.7 638.9 L373.9 634.5 L377.0 630.0 L380.2 625.5 L383.5 620.9 L386.8 616.2 L390.1 611.5 L393.5 606.7 L397.0 601.8 L400.5 596.8 L404.1 591.8 L407.7 586.7 L411.4 581.5 L415.2 576.2 L419.0 570.8 L422.9 565.3 L426.8 559.8 L430.9 554.1 L435.0 548.3 L439.2 542.5 L443.4 536.5 L447.8 530.4 L452.2 524.2 L456.7 517.9 L461.4 511.4 L466.1 504.8 L470.9 498.1 L475.8 491.2 L480.9 484.2 L486.0 477.0 L491.3 469.7 L496.7 462.2 L502.3 454.5 L508.0 446.6 L513.8 438.5 L519.8 430.2 L525.9 421.7 L532.3 413.0 L538.8 404.0 L545.5 394.7 L552.4 385.2 L559.5 375.4 L566.9 365.3 L574.5 354.8 L582.4 344.0 L590.6 332.8 L599.0 321.2 L607.8 309.2 L617.0 296.7 L626.5 283.7 L636.5 270.2 L646.9 256.0 L657.8 241.2 L669.3 225.7 L681.4 209.4 L694.1 192.2 L707.6 174.0 L721.9 154.7 L737.2 134.2 L753.6 112.3 L771.2 88.8 L790.3 63.3 L811.1 35.7 L833.9 5.5 L859.1 -28.0 L887.5 -65.3 L919.7 -107.6 L957.0 -156.5 L1001.4 -214.2 L1055.9 -284.8" class="mr"/>
<path d="M365.6 747.8 L366.2 747.1 L368.3 743.9 L370.4 740.7 L372.6 737.5 L374.8 734.3 L377.0 731.0 L379.2 727.7 L381.5 724.4 L383.7 721.0 L386.0 717.6 L388.4 714.1 L390.7 710.6 L393.1 707.1 L395.5 703.6 L398.0 700.0 L400.4 696.3 L402.9 692.6 L405.4 688.9 L408.0 685.2 L410.6 681.3 L413.2 677.5 L415.9 673.6 L418.6 669.6 L421.3 665.6 L424.0 661.6 L426.8 657.5 L429.7 653.3 L432.5 649.1 L435.4 644.9 L438.4 640.5 L441.4 636.2 L444.4 631.7 L447.5 627.2 L450.6 622.7 L453.8 618.0 L457.0 613.3 L460.3 608.6 L463.6 603.7 L467.0 598.8 L470.4 593.9 L473.9 588.8 L477.4 583.7 L481.0 578.4 L484.7 573.1 L488.4 567.7 L492.2 562.2 L496.1 556.6 L500.0 551.0 L504.0 545.2 L508.1 539.3 L512.3 533.3 L516.5 527.2 L520.8 520.9 L525.3 514.6 L529.8 508.1 L534.4 501.5 L539.1 494.7 L543.9 487.8 L548.8 480.8 L553.9 473.6 L559.0 466.2 L564.3 458.7 L569.7 450.9 L575.3 443.0 L581.0 434.9 L586.8 426.6 L592.9 418.0 L599.0 409.3 L605.4 400.2 L612.0 391.0 L618.7 381.4 L625.7 371.6 L632.9 361.4 L640.4 350.9 L648.1 340.1 L656.1 328.8 L664.3 317.2 L673.0 305.1 L681.9 292.6 L691.3 279.6 L701.0 266.0 L711.2 251.8 L721.9 236.9 L733.1 221.3 L745.0 205.0 L757.4 187.7 L770.7 169.5 L784.7 150.1 L799.7 129.6 L815.8 107.6 L833.0 84.0 L851.7 58.5 L872.1 30.8 L894.5 0.4 L919.3 -33.1 L947.1 -70.5 L978.8 -113.0 L1015.5 -161.9 L1059.1 -219.8 L1112.7 -290.6" class="mr"/>
<path d="M442.6 746.7 L443.1 745.9 L445.2 742.8 L447.2 739.6 L449.3 736.4 L451.5 733.1 L453.6 729.8 L455.8 726.5 L457.9 723.1 L460.2 719.7 L462.4 716.3 L464.6 712.8 L466.9 709.3 L469.2 705.8 L471.6 702.2 L473.9 698.6 L476.3 694.9 L478.8 691.2 L481.2 687.5 L483.7 683.7 L486.2 679.9 L488.8 676.0 L491.3 672.1 L493.9 668.1 L496.6 664.1 L499.3 660.0 L502.0 655.9 L504.7 651.7 L507.5 647.5 L510.3 643.2 L513.2 638.9 L516.1 634.5 L519.1 630.0 L522.1 625.5 L525.1 620.9 L528.2 616.2 L531.3 611.5 L534.5 606.7 L537.7 601.9 L541.0 596.9 L544.3 591.9 L547.7 586.8 L551.1 581.7 L554.6 576.4 L558.2 571.1 L561.8 565.7 L565.5 560.1 L569.3 554.5 L573.1 548.8 L577.0 543.0 L581.0 537.1 L585.0 531.1 L589.2 524.9 L593.4 518.6 L597.7 512.3 L602.1 505.8 L606.5 499.1 L611.1 492.3 L615.8 485.4 L620.6 478.3 L625.5 471.1 L630.5 463.7 L635.7 456.1 L641.0 448.3 L646.4 440.4 L651.9 432.2 L657.6 423.9 L663.5 415.3 L669.5 406.5 L675.7 397.4 L682.1 388.1 L688.7 378.5 L695.5 368.6 L702.5 358.4 L709.8 347.9 L717.3 337.0 L725.1 325.7 L733.2 314.0 L741.6 301.9 L750.4 289.3 L759.5 276.2 L769.0 262.6 L779.0 248.3 L789.4 233.4 L800.4 217.8 L811.9 201.3 L824.1 184.0 L837.1 165.7 L850.8 146.3 L865.5 125.7 L881.2 103.6 L898.1 79.9 L916.4 54.3 L936.3 26.5 L958.2 -3.9 L982.6 -37.5 L1009.8 -75.1 L1040.9 -117.7 L1076.8 -166.8 L1119.6 -224.8 L1172.3 -295.8" class="mr"/>
<path d="M524.3 746.9 L524.7 746.2 L526.7 743.0 L528.7 739.8 L530.7 736.6 L532.8 733.3 L534.8 730.0 L536.9 726.6 L539.0 723.2 L541.2 719.8 L543.3 716.4 L545.5 712.9 L547.7 709.4 L549.9 705.8 L552.2 702.2 L554.5 698.5 L556.8 694.9 L559.1 691.1 L561.5 687.4 L563.9 683.6 L566.3 679.7 L568.8 675.8 L571.3 671.9 L573.8 667.9 L576.4 663.8 L579.0 659.7 L581.6 655.6 L584.2 651.4 L586.9 647.1 L589.7 642.8 L592.4 638.4 L595.2 634.0 L598.1 629.5 L601.0 625.0 L603.9 620.4 L606.9 615.7 L609.9 610.9 L613.0 606.1 L616.1 601.2 L619.3 596.3 L622.5 591.2 L625.8 586.1 L629.2 580.9 L632.5 575.6 L636.0 570.3 L639.5 564.8 L643.1 559.3 L646.7 553.6 L650.4 547.9 L654.2 542.0 L658.1 536.1 L662.0 530.0 L666.0 523.8 L670.1 517.5 L674.2 511.1 L678.5 504.6 L682.8 497.9 L687.3 491.0 L691.8 484.1 L696.5 477.0 L701.2 469.7 L706.1 462.2 L711.1 454.6 L716.2 446.8 L721.5 438.8 L726.9 430.6 L732.4 422.2 L738.1 413.6 L744.0 404.7 L750.0 395.6 L756.2 386.3 L762.6 376.6 L769.2 366.7 L776.1 356.4 L783.1 345.8 L790.4 334.9 L798.0 323.6 L805.9 311.8 L814.1 299.7 L822.6 287.0 L831.5 273.9 L840.7 260.1 L850.4 245.8 L860.6 230.8 L871.3 215.1 L882.5 198.6 L894.4 181.2 L907.0 162.8 L920.4 143.4 L934.7 122.6 L950.1 100.5 L966.6 76.7 L984.4 51.0 L1003.9 23.1 L1025.3 -7.5 L1049.1 -41.2 L1075.8 -78.9 L1106.1 -121.7 L1141.3 -170.9 L1183.2 -229.2 L1234.8 -300.4" class="mr"/>
<path d="M613.7 743.9 L611.3 748.1 L613.2 744.8 L615.1 741.6 L617.0 738.3 L619.0 735.0 L621.0 731.7 L623.0 728.3 L625.0 724.9 L627.1 721.5 L629.1 718.0 L631.2 714.5 L633.4 710.9 L635.5 707.3 L637.7 703.7 L639.9 700.0 L642.1 696.3 L644.3 692.6 L646.6 688.8 L648.9 684.9 L651.3 681.1 L653.6 677.1 L656.0 673.1 L658.4 669.1 L660.9 665.0 L663.4 660.9 L665.9 656.7 L668.5 652.5 L671.1 648.2 L673.7 643.9 L676.4 639.5 L679.1 635.0 L681.8 630.5 L684.6 625.9 L687.4 621.3 L690.3 616.6 L693.2 611.8 L696.2 606.9 L699.2 602.0 L702.2 597.0 L705.4 591.9 L708.5 586.8 L711.7 581.6 L715.0 576.2 L718.3 570.8 L721.7 565.3 L725.2 559.8 L728.7 554.1 L732.2 548.3 L735.9 542.4 L739.6 536.4 L743.4 530.3 L747.2 524.1 L751.2 517.7 L755.2 511.3 L759.3 504.7 L763.5 498.0 L767.8 491.1 L772.2 484.1 L776.7 476.9 L781.3 469.6 L786.0 462.1 L790.8 454.4 L795.8 446.6 L800.9 438.5 L806.1 430.3 L811.4 421.8 L816.9 413.2 L822.6 404.3 L828.4 395.1 L834.5 385.7 L840.7 376.0 L847.1 366.0 L853.7 355.7 L860.5 345.0 L867.6 334.0 L875.0 322.6 L882.6 310.8 L890.5 298.6 L898.8 285.8 L907.4 272.6 L916.4 258.8 L925.8 244.4 L935.7 229.4 L946.0 213.6 L957.0 197.0 L968.5 179.5 L980.8 161.0 L993.8 141.4 L1007.7 120.6 L1022.6 98.3 L1038.6 74.4 L1056.0 48.6 L1075.0 20.6 L1095.9 -10.1 L1119.0 -44.0 L1145.0 -81.9 L1174.7 -124.8 L1209.0 -174.3 L1250.0 -232.7 L1300.4 -304.2" class="mr"/>
<path d="M705.2 747.6 L702.9 751.7 L704.7 748.5 L706.5 745.2 L708.4 741.9 L710.3 738.6 L712.1 735.2 L714.1 731.8 L716.0 728.4 L717.9 724.9 L719.9 721.4 L721.9 717.9 L724.0 714.3 L726.0 710.7 L728.1 707.0 L730.2 703.3 L732.3 699.6 L734.4 695.8 L736.6 691.9 L738.8 688.1 L741.1 684.2 L743.3 680.2 L745.6 676.2 L747.9 672.1 L750.3 668.0 L752.6 663.9 L755.1 659.6 L757.5 655.4 L760.0 651.1 L762.5 646.7 L765.1 642.2 L767.7 637.7 L770.3 633.2 L772.9 628.6 L775.7 623.9 L778.4 619.1 L781.2 614.3 L784.0 609.4 L786.9 604.5 L789.8 599.4 L792.8 594.3 L795.9 589.1 L798.9 583.8 L802.1 578.5 L805.3 573.0 L808.5 567.5 L811.8 561.9 L815.2 556.1 L818.6 550.3 L822.1 544.4 L825.7 538.3 L829.3 532.2 L833.0 525.9 L836.8 519.5 L840.7 513.0 L844.6 506.4 L848.6 499.6 L852.8 492.7 L857.0 485.6 L861.3 478.4 L865.7 471.0 L870.3 463.5 L874.9 455.7 L879.7 447.8 L884.6 439.7 L889.6 431.4 L894.7 422.9 L900.0 414.2 L905.5 405.2 L911.1 396.0 L916.9 386.5 L922.9 376.7 L929.0 366.7 L935.4 356.3 L942.0 345.6 L948.9 334.5 L955.9 323.0 L963.3 311.1 L971.0 298.8 L978.9 286.0 L987.3 272.7 L995.9 258.8 L1005.0 244.3 L1014.6 229.2 L1024.6 213.3 L1035.2 196.6 L1046.4 179.0 L1058.2 160.4 L1070.8 140.7 L1084.3 119.7 L1098.8 97.3 L1114.3 73.3 L1131.2 47.4 L1149.6 19.2 L1169.9 -11.7 L1192.4 -45.7 L1217.7 -83.8 L1246.5 -126.9 L1279.9 -176.6 L1319.8 -235.3 L1369.0 -307.1" class="mr"/>
<path d="M801.5 753.2 L799.2 757.5 L800.9 754.2 L802.7 750.9 L804.4 747.6 L806.2 744.2 L808.0 740.8 L809.8 737.4 L811.6 733.9 L813.5 730.4 L815.4 726.9 L817.2 723.3 L819.2 719.7 L821.1 716.0 L823.1 712.3 L825.1 708.6 L827.1 704.8 L829.1 701.0 L831.2 697.1 L833.3 693.2 L835.4 689.2 L837.5 685.2 L839.7 681.2 L841.9 677.1 L844.1 672.9 L846.4 668.7 L848.7 664.5 L851.0 660.2 L853.4 655.8 L855.8 651.4 L858.2 646.9 L860.6 642.4 L863.1 637.8 L865.7 633.1 L868.3 628.4 L870.9 623.6 L873.5 618.7 L876.2 613.8 L879.0 608.8 L881.8 603.7 L884.6 598.5 L887.5 593.3 L890.4 588.0 L893.4 582.6 L896.4 577.1 L899.5 571.5 L902.7 565.8 L905.9 560.0 L909.2 554.1 L912.5 548.1 L915.9 542.0 L919.4 535.8 L922.9 529.5 L926.5 523.1 L930.2 516.5 L934.0 509.8 L937.8 503.0 L941.8 496.0 L945.8 488.9 L949.9 481.6 L954.2 474.1 L958.5 466.5 L962.9 458.7 L967.5 450.8 L972.2 442.6 L977.0 434.2 L981.9 425.7 L987.0 416.8 L992.2 407.8 L997.6 398.5 L1003.2 388.9 L1008.9 379.1 L1014.8 368.9 L1020.9 358.5 L1027.3 347.7 L1033.8 336.5 L1040.6 324.9 L1047.7 313.0 L1055.1 300.6 L1062.7 287.7 L1070.7 274.2 L1079.1 260.3 L1087.8 245.7 L1097.0 230.4 L1106.7 214.4 L1116.9 197.6 L1127.6 179.9 L1139.1 161.2 L1151.2 141.3 L1164.2 120.2 L1178.2 97.7 L1193.2 73.5 L1209.5 47.4 L1227.3 19.0 L1246.9 -12.0 L1268.7 -46.3 L1293.2 -84.6 L1321.2 -127.9 L1353.7 -177.9 L1392.4 -236.9 L1440.2 -309.0" class="mr"/>
<path d="M99.8 752.5 L92.1 744.3 L84.3 736.2M57.5 708.4 L49.6 700.3 L41.6 692.1M36.0 686.4 L28.0 678.2 L20.0 670.1" class="sa"/>
<path d="M188.6 745.7 L181.4 737.5 L174.1 729.4M168.9 723.6 L161.4 715.4 L153.9 707.2M148.6 701.5 L140.9 693.3 L133.2 685.2M106.5 657.4 L98.6 649.2 L90.6 641.1M85.0 635.3 L77.0 627.2 L69.0 619.1M63.4 613.3 L55.3 605.2 L47.3 597.1M41.6 591.3 L33.5 583.2 L25.5 575.1" class="sa"/>
<path d="M275.4 740.9 L269.2 732.7 L262.8 724.5M258.2 718.7 L251.6 710.5 L244.8 702.3M239.9 696.5 L232.9 688.3 L225.8 680.1M220.7 674.3 L213.3 666.1 L205.9 658.0M200.6 652.2 L193.1 644.0 L185.4 635.9M158.9 608.0 L151.0 599.9 L143.1 591.7M137.5 586.0 L129.6 577.9 L121.6 569.7M116.0 564.0 L107.9 555.8 L99.9 547.7M94.2 542.0 L86.2 533.8 L78.1 525.7M72.4 520.0 L64.3 511.9 L56.2 503.7M50.6 498.0 L42.5 489.9 L34.4 481.7" class="sa"/>
<path d="M360.5 737.8 L355.8 729.6 L350.9 721.4M347.4 715.6 L342.1 707.4 L336.7 699.1M332.7 693.3 L326.9 685.1 L321.0 676.9M316.7 671.1 L310.4 662.8 L303.9 654.6M299.3 648.8 L292.5 640.6 L285.7 632.4M280.7 626.6 L273.6 618.4 L266.4 610.2M261.3 604.5 L253.9 596.3 L246.4 588.1M241.1 582.3 L233.4 574.2 L225.7 566.0M220.3 560.3 L212.5 552.1 L204.6 543.9M199.1 538.2 L191.2 530.0 L183.2 521.9M177.6 516.2 L169.6 508.0 L161.6 499.9M156.0 494.2 L148.0 486.0 L139.9 477.9M134.2 472.2 L126.2 464.0 L118.1 455.9M112.4 450.2 L104.3 442.0 L96.2 433.9M90.5 428.2 L82.4 420.0 L74.3 411.9M68.6 406.2 L60.5 398.1 L52.4 389.9M46.7 384.2 L38.6 376.1 L30.5 367.9" class="sa"/>
<path d="M443.9 736.4 L441.1 728.2 L438.2 720.0M436.0 714.3 L432.8 706.1 L429.3 697.9M426.7 692.1 L422.9 683.8 L418.9 675.6M415.9 669.8 L411.6 661.6 L406.9 653.3M403.6 647.5 L398.6 639.3 L393.4 631.0M389.6 625.2 L384.0 617.0 L378.3 608.7M374.1 602.9 L368.0 594.7 L361.7 586.4M357.2 580.7 L350.6 572.4 L343.8 564.2M339.0 558.4 L332.0 550.2 L324.9 542.0M319.8 536.2 L312.5 528.0 L305.0 519.8M299.7 514.1 L292.2 505.9 L284.5 497.7M279.1 492.0 L271.3 483.8 L263.5 475.6M258.0 469.9 L250.1 461.8 L242.1 453.6M236.6 447.9 L228.6 439.7 L220.6 431.6M214.9 425.9 L206.9 417.7 L198.8 409.6M193.2 403.8 L185.1 395.7 L177.0 387.6M171.4 381.9 L163.3 373.7 L155.2 365.6M149.5 359.9 L141.4 351.7 L133.3 343.6M127.6 337.9 L119.5 329.7 L111.4 321.6M105.7 315.9 L97.6 307.8 L89.5 299.6M83.8 293.9 L75.7 285.8 L67.6 277.6M61.9 271.9 L53.8 263.8 L45.7 255.7M40.0 249.9 L31.9 241.8 L23.7 233.7" class="sa"/>
<path d="M525.8 736.5 L525.0 728.4 L524.0 720.4M523.3 714.7 L522.2 706.6 L520.9 698.5M519.9 692.7 L518.4 684.6 L516.7 676.5M515.4 670.7 L513.5 662.5 L511.4 654.4M509.8 648.6 L507.4 640.4 L504.8 632.2M502.9 626.4 L500.0 618.1 L496.9 609.9M494.5 604.1 L491.1 595.8 L487.3 587.6M484.6 581.8 L480.5 573.5 L476.2 565.2M473.0 559.4 L468.3 551.1 L463.4 542.8M459.8 537.0 L454.4 528.8 L448.9 520.5M444.9 514.7 L438.9 506.4 L432.8 498.2M428.4 492.4 L422.0 484.1 L415.3 475.9M410.6 470.1 L403.7 461.8 L396.7 453.6M391.6 447.8 L384.4 439.6 L377.0 431.4M351.2 403.6 L343.4 395.4 L335.6 387.2M330.1 381.5 L322.2 373.3 L314.3 365.2M308.7 359.4 L300.8 351.3 L292.8 343.1M287.1 337.4 L279.1 329.3 L271.0 321.1M265.4 315.4 L257.3 307.3 L249.2 299.1M243.6 293.4 L235.5 285.3 L227.4 277.1M221.7 271.4 L213.6 263.3 L205.5 255.1M199.8 249.4 L191.7 241.3 L183.6 233.2M177.9 227.4 L169.8 219.3 L161.7 211.2M156.0 205.5 L147.9 197.3 L139.8 189.2M134.1 183.5 L126.0 175.3 L117.9 167.2M112.2 161.5 L104.0 153.4 L95.9 145.2M90.2 139.5 L82.1 131.4 L74.0 123.2M68.3 117.5 L60.2 109.4 L52.1 101.2M46.4 95.5 L38.3 87.4 L30.2 79.3" class="sa"/>
<path d="M606.3 738.0 L607.0 730.1 L607.7 722.2M608.1 716.7 L608.7 708.7 L609.3 700.8M609.6 695.2 L610.0 687.2 L610.4 679.2M610.6 673.6 L610.9 665.6 L611.0 657.6M611.1 651.9 L611.1 643.9 L611.0 635.8M610.9 630.1 L610.7 622.0 L610.4 613.9M610.1 608.2 L609.6 600.1 L609.0 591.9M608.5 586.2 L607.6 578.0 L606.6 569.9M605.9 564.1 L604.6 555.9 L603.3 547.7M602.2 541.9 L600.5 533.7 L598.7 525.4M597.3 519.6 L595.2 511.3 L592.8 503.1M591.1 497.2 L588.4 488.9 L585.5 480.6M583.3 474.8 L580.0 466.5 L576.4 458.2M573.8 452.3 L569.9 444.0 L565.7 435.7M562.6 429.9 L558.0 421.5 L553.1 413.2M549.6 407.4 L544.3 399.1 L538.8 390.8M534.7 385.0 L528.8 376.7 L522.7 368.4M518.3 362.6 L511.8 354.3 L505.2 346.1M500.4 340.3 L493.5 332.0 L486.4 323.8M461.3 295.8 L453.7 287.6 L446.0 279.5M440.6 273.7 L432.8 265.5 L425.0 257.4M419.5 251.6 L411.5 243.5 L403.6 235.3M398.0 229.6 L390.0 221.5 L382.0 213.3M376.3 207.6 L368.3 199.4 L360.2 191.3M354.5 185.6 L346.5 177.4 L338.4 169.3M332.7 163.6 L324.6 155.4 L316.5 147.3M310.8 141.6 L302.7 133.5 L294.6 125.3M288.9 119.6 L280.8 111.5 L272.7 103.3M267.0 97.6 L258.9 89.5 L250.8 81.4M245.1 75.6 L237.0 67.5 L228.9 59.4M223.2 53.7 L215.1 45.5 L207.0 37.4M201.3 31.7 L193.2 23.5 L185.1 15.4M179.4 9.7 L171.3 1.5 L163.2 -6.6" class="sa"/>
<path d="M685.4 740.9 L687.2 733.2 L689.0 725.5M690.2 720.0 L692.0 712.3 L693.7 704.6M694.9 699.1 L696.7 691.4 L698.4 683.6M699.5 678.1 L701.2 670.3 L702.8 662.5M704.0 657.0 L705.6 649.2 L707.2 641.3M708.3 635.8 L709.8 627.9 L711.3 620.0M712.4 614.5 L713.8 606.6 L715.3 598.7M716.3 593.1 L717.6 585.2 L719.0 577.2M719.9 571.6 L721.1 563.6 L722.4 555.6M723.2 550.0 L724.3 542.0 L725.4 533.9M726.1 528.3 L727.1 520.2 L728.1 512.1M728.7 506.5 L729.5 498.4 L730.3 490.3M730.8 484.5 L731.4 476.4 L732.0 468.3M732.3 462.5 L732.7 454.3 L733.0 446.2M733.2 440.4 L733.4 432.2 L733.4 424.0M733.3 418.2 L733.2 409.9 L732.9 401.7M732.6 395.8 L732.1 387.6 L731.4 379.3M730.9 373.4 L730.0 365.1 L728.9 356.8M728.0 350.9 L726.6 342.6 L725.0 334.2M723.7 328.3 L721.8 320.0 L719.6 311.6M718.0 305.7 L715.4 297.3 L712.6 288.9M710.5 283.1 L707.2 274.7 L703.8 266.3M701.1 260.4 L697.2 252.0 L692.9 243.6M689.8 237.7 L685.1 229.4 L680.1 221.0M676.5 215.2 L671.1 206.8 L665.4 198.5M661.2 192.6 L655.2 184.3 L648.8 176.0M644.3 170.2 L637.6 161.9 L630.8 153.7M625.8 147.9 L618.7 139.6 L611.4 131.4M606.3 125.6 L598.8 117.4 L591.2 109.2M585.8 103.5 L578.1 95.3 L570.3 87.1M564.8 81.4 L556.9 73.2 L549.0 65.0M543.4 59.3 L535.5 51.2 L527.5 43.0M521.8 37.3 L513.8 29.1 L505.7 21.0M500.1 15.3 L492.0 7.1 L483.9 -1.0M478.2 -6.7 L470.1 -14.8 L462.0 -23.0" class="sa"/>
<path d="M763.4 744.9 L765.7 737.4 L768.1 729.9M769.8 724.7 L772.2 717.1 L774.6 709.6M776.2 704.3 L778.6 696.7 L781.0 689.2M782.7 683.8 L785.1 676.3 L787.6 668.7M789.2 663.3 L791.7 655.7 L794.1 648.1M795.8 642.7 L798.2 635.1 L800.6 627.4M802.3 622.0 L804.7 614.4 L807.1 606.7M808.8 601.3 L811.2 593.6 L813.7 585.9M815.3 580.4 L817.8 572.7 L820.2 565.0M821.9 559.5 L824.3 551.8 L826.7 544.0M828.3 538.5 L830.7 530.7 L833.1 522.9M834.8 517.4 L837.2 509.6 L839.5 501.7M841.2 496.2 L843.5 488.4 L845.9 480.5M847.5 474.9 L849.8 467.0 L852.2 459.1M853.8 453.6 L856.1 445.6 L858.4 437.7M859.9 432.1 L862.2 424.2 L864.4 416.2M866.0 410.6 L868.2 402.6 L870.4 394.6M871.9 388.9 L874.1 380.9 L876.2 372.8M877.7 367.2 L879.8 359.1 L881.8 351.0M883.2 345.3 L885.2 337.2 L887.2 329.1M888.6 323.4 L890.5 315.2 L892.4 307.1M893.6 301.3 L895.4 293.2 L897.2 285.0M898.4 279.2 L900.1 271.0 L901.7 262.8M902.8 257.0 L904.3 248.7 L905.8 240.4M906.8 234.6 L908.1 226.3 L909.4 218.0M910.4 52.6 L908.6 44.1 L906.5 35.6M904.9 29.6 L902.4 21.1 L899.6 12.6M897.4 6.6 L894.1 -1.8 L890.5 -10.3" class="sa"/>
<path d="M840.1 750.2 L842.6 742.9 L845.2 735.5M847.0 730.4 L849.6 723.0 L852.1 715.7M853.9 710.5 L856.5 703.1 L859.1 695.8M861.0 690.6 L863.6 683.2 L866.2 675.8M868.1 670.6 L870.7 663.1 L873.3 655.7M875.2 650.5 L877.9 643.0 L880.6 635.6M882.4 630.3 L885.1 622.9 L887.8 615.4M889.7 610.1 L892.4 602.6 L895.2 595.1M897.1 589.8 L899.8 582.3 L902.6 574.8M904.5 569.5 L907.3 561.9 L910.0 554.4" class="sa"/>
<path d="M34.2 358.9 L44.7 356.6 L55.2 354.3 L65.6 352.1 L76.0 349.9 L86.4 347.7 L96.7 345.6 L107.0 343.5 L117.3 341.4 L127.5 339.4 L137.7 337.4 L147.9 335.4 L158.0 333.5 L168.1 331.6 L178.1 329.8 L188.2 327.9 L198.2 326.1 L208.2 324.3 L218.1 322.6 L228.0 320.9 L237.9 319.2 L247.8 317.5 L257.6 315.9 L267.4 314.3 L277.2 312.7 L286.9 311.2 L296.6 309.7 L306.3 308.2 L315.9 306.8 L325.6 305.3 L335.2 303.9 L344.8 302.5 L354.3 301.2 L363.8 299.9 L373.3 298.6 L382.8 297.3 L392.3 296.0 L401.7 294.8 L411.1 293.6 L420.5 292.4 L429.8 291.3 L439.1 290.2 L448.4 289.1 L457.7 288.0 L467.0 286.9 L476.2 285.9 L485.4 284.9 L494.6 283.9 L503.8 282.9 L512.9 282.0 L522.0 281.1 L531.1 280.2 L540.2 279.3 L549.3 278.4 L558.3 277.6 L567.3 276.8 L576.3 276.0 L585.3 275.2 L594.2 274.5 L603.1 273.8 L612.0 273.1 L620.9 272.4 L629.8 271.7 L638.6 271.1 L647.5 270.4 L656.3 269.8 L665.1 269.2 L673.8 268.7 L682.6 268.1 L691.3 267.6 L700.0 267.1 L708.7 266.6 L717.4 266.1 L726.0 265.7 L734.7 265.2 L743.3 264.8 L751.9 264.4 L760.5 264.0 L769.0 263.7 L777.6 263.3 L786.1 263.0 L794.6 262.7 L803.1 262.4 L811.6 262.1 L820.1 261.8 L828.5 261.6 L837.0 261.3 L845.4 261.1 L853.8 260.9 L862.2 260.7 L870.5 260.6 L878.9 260.4 L887.2 260.3 L895.5 260.2 L903.8 260.1" class="tp"/>
</g>
<g clip-path="url(#cp)">
<path d="M572.9 775.0 L431.5 285.5 L722.0 -5.0" class="isa"/>
<line x1="440.3" y1="739.5" x2="499" y2="682.5" stroke="url(#gb)" stroke-width="6.4" stroke-linecap="round"/>
<path d="M419.0 740.2 L412.3 731.3 L403.4 717.9 L394.5 702.4 L387.8 686.8 L383.4 671.2 L381.6 657.9 L377.8 644.5 L376.0 640.0 L370.7 626.0 L366.7 619.3 L368.0 613.3 L374.5 607.8 L385.6 600.0 L390.0 595.7 L394.5 592.0 L402.3 580.2 L409.0 562.4 L413.5 542.4 L416.8 520.1 L422.4 500.1 L429.0 480.1 L433.5 462.3 L435.7 446.7 L434.6 431.1 L431.3 420.0 L424.6 392.0 L420.2 375.7 L411.3 357.9 L401.2 342.4 L396.8 329.0 L395.7 313.4 L397.9 300.1 L401.2 291.2 L414.7 274.0 L430.0 260.7 L446.0 248.0 L460.7 236.7 L475.3 225.3 L491.3 211.3 L504.7 199.3 L531.5 170.2 L556.8 140.1 L583.5 106.8 L610.2 71.7 L640.2 33.4 L673.6 0.0 L680.0 -6.0" class="tc"/>
<path d="M397.4 740.2 L397.9 733.5 L399.6 724.6 L394.5 717.9 L385.6 704.6 L376.7 689.0 L367.8 671.2 L363.4 655.6 L356.0 640.0 L348.0 626.0 L343.7 621.0 L344.3 615.0 L338.9 612.3 L330.0 608.7 L300.2 606.9 L233.5 606.2 L166.7 606.9 L143.3 606.5 L120.0 603.2 L133.3 588.3 L139.5 579.0 L143.4 570.2 L145.0 550.2 L150.0 536.8 L160.1 525.1 L180.1 511.8 L210.1 496.8 L233.5 483.4 L256.8 466.8 L280.2 451.7 L306.9 436.7 L333.6 421.7 L353.6 406.7 L362.9 393.3 L363.4 378.0 L359.0 362.4 L353.4 350.1 L340.0 335.7 L320.0 322.3 L308.9 307.9 L314.5 290.1 L311.2 270.0 L291.6 253.4 L289.3 232.9 L421.0 65.5 L475.3 0.0 L480.3 -6.0" class="dc"/>
<path d="M804.4 6.7 L782.5 11.9" class="wb"/>
<path d="M782.5 11.9 L780.6 3.8 L787.2 10.8 Z" class="wp"/>
<path d="M788.8 10.4 L782.2 3.0" class="wb"/>
<path d="M804.4 216.4 L783.9 226.7" class="wb"/>
<path d="M783.9 226.7 L780.2 219.3 L788.2 224.5 Z" class="wp"/>
<path d="M788.3 224.5 L784.6 217.1 L792.6 222.3 Z" class="wp"/>
<path d="M804.4 261.7 L783.9 271.7" class="wb"/>
<path d="M783.9 271.7 L780.3 264.2 L788.2 269.6 Z" class="wp"/>
<path d="M788.3 269.6 L784.7 262.1 L792.6 267.4 Z" class="wp"/>
<path d="M794.1 266.7 L786.1 260.9" class="wb"/>
<path d="M797.0 265.3 L789.0 259.5" class="wb"/>
<path d="M799.9 263.9 L791.9 258.1" class="wb"/>
<path d="M805.0 345.3 L784.4 356.4" class="wb"/>
<path d="M784.4 356.4 L780.5 349.1 L788.6 354.1 Z" class="wp"/>
<path d="M788.7 354.1 L784.8 346.8 L792.9 351.8 Z" class="wp"/>
<path d="M794.4 351.0 L786.2 345.6" class="wb"/>
<path d="M797.3 349.5 L789.0 344.0" class="wb"/>
<path d="M800.1 348.0 L791.8 342.5" class="wb"/>
<path d="M805.0 438.3 L784.8 450.3" class="wb"/>
<path d="M784.8 450.3 L780.6 443.2 L788.9 447.8 Z" class="wp"/>
<path d="M789.0 447.8 L784.8 440.7 L793.1 445.3 Z" class="wp"/>
<path d="M794.6 444.5 L786.1 439.4" class="wb"/>
<path d="M804.7 512.4 L784.8 524.3" class="wb"/>
<path d="M784.8 524.3 L780.5 517.2 L788.9 521.8 Z" class="wp"/>
<path d="M790.4 521.0 L781.9 515.9" class="wb"/>
<path d="M793.1 519.3 L784.6 514.3" class="wb"/>
<path d="M795.9 517.7 L787.4 512.6" class="wb"/>
<path d="M798.6 516.0 L790.1 511.0" class="wb"/>
<path d="M804.2 625.9 L807.3 648.7" class="wb"/>
<path d="M806.9 645.5 L802.8 648.5" class="wb"/>
<path d="M804.2 693.7 L822.1 678.2" class="wb"/>
<path d="M822.1 678.2 L831.3 681.7" class="wb"/>
<path d="M819.7 680.3 L828.9 683.8" class="wb"/>
<path d="M817.3 682.4 L822.0 684.1" class="wb"/>
<path d="M804.2 722.4 L814.2 702.0" class="wb"/>
<path d="M814.2 702.0 L824.1 701.6" class="wb"/>
<path d="M812.8 704.9 L822.7 704.5" class="wb"/>
<path d="M811.4 707.7 L821.3 707.4" class="wb"/>
<path d="M804.6 749.3 L805.4 727.1" class="wb"/>
<path d="M805.4 727.1 L814.3 722.7" class="wb"/>
<path d="M805.3 730.3 L814.1 725.9" class="wb"/>
<path d="M805.2 733.5 L814.0 729.1" class="wb"/>
<path d="M804.7 253.8 L812.8 261.9 L804.7 270 L796.6 261.9 Z" fill="none" stroke="#000" stroke-width="0.8"/>
</g>
<g>
<text x="804.7" y="264.8" text-anchor="middle" font-size="8.5" font-weight="bold" fill="#444">T</text>
<text x="36" y="158.9" text-anchor="end" class="l10">50170ft</text>
<text x="40.7" y="153.2" class="l10">100[hPa]</text>
<text x="36" y="254.8" text-anchor="end" class="l10">42250ft</text>
<text x="40.7" y="249.8" class="l10">150[hPa]</text>
<text x="36" y="325.5" text-anchor="end" class="l10">36530ft</text>
<text x="40.7" y="321.1" class="l10">200[hPa]</text>
<text x="36" y="382.0" text-anchor="end" class="l10">32065ft</text>
<text x="40.7" y="377.9" class="l10">250[hPa]</text>
<text x="36" y="429.1" text-anchor="end" class="l10">28300ft</text>
<text x="40.7" y="425.3" class="l10">300[hPa]</text>
<text x="36" y="505.2" text-anchor="end" class="l10">22050ft</text>
<text x="40.7" y="501.9" class="l10">400[hPa]</text>
<text x="36" y="565.7" text-anchor="end" class="l10">16995ft</text>
<text x="40.7" y="562.8" class="l10">500[hPa]</text>
<text x="36" y="616.2" text-anchor="end" class="l10">12745ft</text>
<text x="40.7" y="613.5" class="l10">600[hPa]</text>
<text x="36" y="659.5" text-anchor="end" class="l10">9100ft</text>
<text x="40.7" y="657.1" class="l10">700[hPa]</text>
<text x="36" y="714.9" text-anchor="end" class="l10">4415ft</text>
<text x="40.7" y="712.8" class="l10">850[hPa]</text>
<text x="36" y="762.1" text-anchor="end" class="l10">385ft</text>
<text x="40.7" y="760.3" class="l10">1000[hPa]</text>
<text x="40.7" y="768.6" class="l10">1050[hPa]</text>
<text x="36" y="10.4" text-anchor="end" class="l10">63250ft</text>
<text x="36" y="78.3" text-anchor="end" class="l10">56990ft</text>
<text x="797.2" y="10.8" class="l10">100[hPa]</text>
<text x="266.9" y="10.6" class="l10" textLength="21.4" lengthAdjust="spacingAndGlyphs">[hPa]</text>
<text x="898.3" y="47.6" text-anchor="end" class="l10">-30</text>
<text x="898.3" y="129.6" text-anchor="end" class="l10">-20</text>
<text x="898.3" y="211.6" text-anchor="end" class="l10">-10</text>
<text x="898.3" y="289.2" text-anchor="end" class="l10">0</text>
<text x="898.3" y="374.0" text-anchor="end" class="l10">10</text>
<text x="898.3" y="456.0" text-anchor="end" class="l10">20</text>
<text x="898.3" y="538.0" text-anchor="end" class="l10">30</text>
<text x="898.3" y="620.0" text-anchor="end" class="l10">40</text>
<text x="898.3" y="702.0" text-anchor="end" class="l10">50</text>
<text x="87.5" y="768.6" text-anchor="middle" class="l10">-40</text>
<text x="172.7" y="765.2" text-anchor="middle" class="l10">-30</text>
<text x="259.5" y="760.4" text-anchor="middle" class="l10">-20</text>
<text x="344.6" y="757.3" text-anchor="middle" class="l10">-10</text>
<text x="428.0" y="755.9" text-anchor="middle" class="l10">0</text>
<text x="509.9" y="756.0" text-anchor="middle" class="l10">10</text>
<text x="590.4" y="757.5" text-anchor="middle" class="l10">20</text>
<text x="669.6" y="760.3" text-anchor="middle" class="l10">30</text>
<text x="747.5" y="764.4" text-anchor="middle" class="l10">40</text>
<text x="824.3" y="769.6" text-anchor="middle" class="l10">50</text>
<text transform="translate(93.2 767.6) rotate(-53.1)" x="0" y="3.6" text-anchor="start" class="l10">0.125</text>
<text transform="translate(155.1 762.8) rotate(-53.8)" x="0" y="3.6" text-anchor="start" class="l10">0.25</text>
<text transform="translate(220.4 758.7) rotate(-54.4)" x="0" y="3.6" text-anchor="start" class="l10">0.5</text>
<text transform="translate(289.2 755.5) rotate(-55.2)" x="0" y="3.6" text-anchor="start" class="l10">1</text>
<text transform="translate(362.0 753.3) rotate(-56.1)" x="0" y="3.6" text-anchor="start" class="l10">2</text>
<text transform="translate(439.1 752.2) rotate(-57.0)" x="0" y="3.6" text-anchor="start" class="l10">4</text>
<text transform="translate(520.8 752.5) rotate(-58.1)" x="0" y="3.6" text-anchor="start" class="l10">8</text>
<text transform="translate(607.5 754.4) rotate(-59.4)" x="0" y="3.6" text-anchor="start" class="l10">16</text>
<text transform="translate(699.3 758.1) rotate(-60.8)" x="0" y="3.6" text-anchor="start" class="l10">32</text>
<text transform="translate(795.8 764.0) rotate(-62.3)" x="0" y="3.6" text-anchor="start" class="l10">64</text>
<text transform="translate(65.0 717.0) rotate(48)" x="0" y="3.5" text-anchor="middle" class="l10">-40</text>
<text transform="translate(113.0 668.0) rotate(48)" x="0" y="3.5" text-anchor="middle" class="l10">-30</text>
<text transform="translate(165.7 617.6) rotate(48)" x="0" y="3.5" text-anchor="middle" class="l10">-20</text>
<text transform="translate(220.0 562.8) rotate(48)" x="0" y="3.5" text-anchor="middle" class="l10">-10</text>
<text transform="translate(280.2 494.4) rotate(48)" x="0" y="3.5" text-anchor="middle" class="l10">0</text>
<text transform="translate(362.0 416.7) rotate(48)" x="0" y="3.5" text-anchor="middle" class="l10">10</text>
<text transform="translate(471.3 307.4) rotate(48)" x="0" y="3.5" text-anchor="middle" class="l10">20</text>
<text transform="translate(626.9 151.8) rotate(48)" x="0" y="3.5" text-anchor="middle" class="l10">30</text>
</g>
<g>
<rect x="39.75" y="0.5" width="226.5" height="120.8" fill="#fff" stroke="#000" stroke-width="1.3"/>
<text x="41.8" y="18.6" font-size="13" class="fb2" textLength="97.2" lengthAdjust="spacingAndGlyphs">Sounding Indices</text>
<text x="43.3" y="35.1" class="l11" textLength="216" lengthAdjust="spacingAndGlyphs">UWC/IG 5km/25.11.2024 15:00/+70 h/BIHU</text>
<text x="43.5" y="51.3" class="l11" textLength="36.7" lengthAdjust="spacingAndGlyphs">Position</text>
<text x="154.7" y="51.3" class="l11b" textLength="83.6" lengthAdjust="spacingAndGlyphs">65°57'N 17°25'W</text>
<text x="43.5" y="67.3" class="l11" textLength="42.5" lengthAdjust="spacingAndGlyphs">Elevation</text>
<text x="154.7" y="67.3" class="l11b" textLength="25" lengthAdjust="spacingAndGlyphs">105ft</text>
<text x="43.5" y="83.3" class="l11" textLength="27.5" lengthAdjust="spacingAndGlyphs">Name</text>
<text x="154.7" y="83.3" class="l11b">Húsavík</text>
<text x="43.5" y="99.3" class="l11" textLength="30.5" lengthAdjust="spacingAndGlyphs">TH850</text>
<text x="154.7" y="99.3" class="l11b" textLength="31" lengthAdjust="spacingAndGlyphs">4030ft</text>
<text x="43.5" y="115.3" class="l11" textLength="30.5" lengthAdjust="spacingAndGlyphs">TH500</text>
<text x="154.7" y="115.3" class="l11b">16610ft</text>
</g>
</svg>
</body></html>
